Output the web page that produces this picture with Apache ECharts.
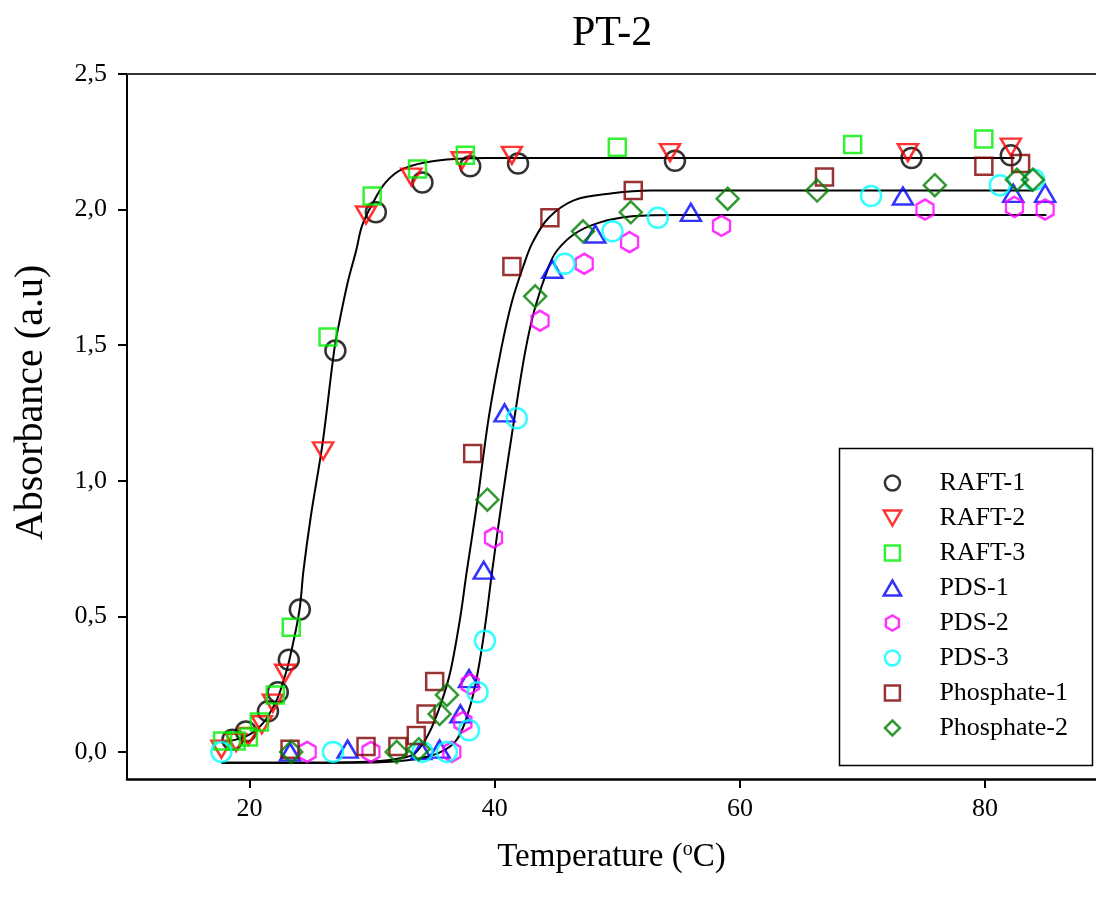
<!DOCTYPE html>
<html>
<head>
<meta charset="utf-8">
<script src="https://cdn.jsdelivr.net/npm/echarts@6/dist/echarts.min.js"></script>
<style>
  html, body { margin: 0; padding: 0; background: #fff; }
  #chart { width: 1096px; height: 901px; }
</style>
</head>
<body>
<div id="chart"></div>
<script>
// ---- measured points (temperature, absorbance) ----
const raft1 = [[18.6,0.045],[19.7,0.075],[21.5,0.15],[22.3,0.22],[23.2,0.34],[24.1,0.525],[27.0,1.48],[30.3,1.99],[34.1,2.10],[38.0,2.16],[41.9,2.17],[54.7,2.18],[74.0,2.19],[82.1,2.20]];
const raft2 = [[17.7,0.01],[18.9,0.035],[19.9,0.057],[21.0,0.10],[21.9,0.18],[22.9,0.29],[26.0,1.11],[29.5,1.98],[33.2,2.12],[37.3,2.18],[41.4,2.20],[54.3,2.21],[73.7,2.21],[82.1,2.23]];
const raft3 = [[17.8,0.04],[18.9,0.04],[19.9,0.055],[20.8,0.11],[22.1,0.21],[23.4,0.46],[26.4,1.53],[30.0,2.05],[33.7,2.15],[37.6,2.20],[50.0,2.23],[69.2,2.24],[79.9,2.26]];
const pds1 = [[23.3,0.0],[28.0,0.01],[34.0,0.005],[35.5,0.01],[37.2,0.14],[37.9,0.27],[39.1,0.67],[40.8,1.25],[44.7,1.78],[48.2,1.91],[56.0,1.99],[73.3,2.05],[82.3,2.06],[84.9,2.06]];
const pds2 = [[24.7,0.0],[29.9,0.0],[36.5,0.0],[37.4,0.11],[38.0,0.25],[39.9,0.79],[43.7,1.59],[47.3,1.80],[51.0,1.88],[58.5,1.94],[75.1,2.00],[82.4,2.01],[84.9,2.00]];
const pds3 = [[17.7,0.0],[26.8,0.0],[34.1,0.0],[36.1,0.0],[37.9,0.08],[38.6,0.22],[39.2,0.41],[41.8,1.23],[45.7,1.80],[49.6,1.92],[53.3,1.97],[70.7,2.05],[81.2,2.09],[84.0,2.11]];
const phos1 = [[23.3,0.01],[29.5,0.02],[32.1,0.02],[33.6,0.06],[34.4,0.14],[35.1,0.26],[38.2,1.10],[41.4,1.79],[44.5,1.97],[51.3,2.07],[66.9,2.12],[79.9,2.16],[82.9,2.17]];
const phos2 = [[23.4,0.0],[32.0,0.0],[33.8,0.01],[35.5,0.14],[36.1,0.21],[39.4,0.93],[43.3,1.68],[47.2,1.92],[51.1,1.99],[59.0,2.04],[66.3,2.07],[75.9,2.09],[82.6,2.11],[83.9,2.11]];

// ---- fitted curves ----
const fitRaft = [[17.7,0.035],[19.7,0.057],[21.1,0.106],[22.2,0.19],[22.7,0.253],[23.25,0.34],[24.06,0.52],[24.4,0.67],[25.0,0.87],[25.96,1.14],[26.9,1.48],[27.3,1.58],[28.0,1.73],[28.7,1.85],[29.17,1.94],[30.0,2.02],[31.1,2.10],[32.5,2.15],[35.2,2.18],[39.3,2.19],[45,2.19],[82.4,2.19]];
const fitPhos = [[17.7,-0.04],[26,-0.04],[30.6,-0.034],[32.5,-0.022],[33.5,-0.005],[34.65,0.07],[35.7,0.19],[36.4,0.30],[37.2,0.50],[37.7,0.66],[38.6,0.93],[39.5,1.23],[40.5,1.48],[41.4,1.66],[42.4,1.80],[43.1,1.88],[44.4,1.97],[46.5,2.035],[49.6,2.06],[52.7,2.07],[60,2.07],[83.9,2.07]];
const fitPds = [[17.7,-0.04],[26,-0.04],[30.6,-0.038],[34.65,-0.016],[36.8,0.039],[37.9,0.155],[38.6,0.29],[39.2,0.46],[39.8,0.67],[40.6,0.93],[41.6,1.23],[42.5,1.48],[43.3,1.64],[44.4,1.79],[45.1,1.85],[46.5,1.91],[48.4,1.95],[51.2,1.975],[55,1.98],[85.0,1.98]];

const xTicks = [20, 40, 60, 80];
const yTicks = [0, 0.5, 1.0, 1.5, 2.0, 2.5];

const FONT = 'Liberation Serif';
// path symbols keep their aspect in the legend
const hexagon = 'path://M0,-10L8.66,-5L8.66,5L0,10L-8.66,5L-8.66,-5Z';
const downTriangle = 'path://M-10,-8.66L10,-8.66L0,8.66Z';
const upTriangle = 'path://M-10,8.66L10,8.66L0,-8.66Z';
const square = 'path://M-10,-10L10,-10L10,10L-10,10Z';
const diamond = 'path://M0,-10L10,0L0,10L-10,0Z';

const markers = [
  { name: 'RAFT-1', data: raft1, color: '#000000', symbol: 'circle', size: 20 },
  { name: 'RAFT-2', data: raft2, color: '#ff0000', symbol: downTriangle, size: [20, 17] },
  { name: 'RAFT-3', data: raft3, color: '#00ee00', symbol: square, size: 17 },
  { name: 'PDS-1', data: pds1, color: '#0000ff', symbol: upTriangle, size: [20, 17] },
  { name: 'PDS-2', data: pds2, color: '#ff00ff', symbol: hexagon, size: [17, 20] },
  { name: 'PDS-3', data: pds3, color: '#00ffff', symbol: 'circle', size: 20 },
  { name: 'Phosphate-1', data: phos1, color: '#800000', symbol: square, size: 17 },
  { name: 'Phosphate-2', data: phos2, color: '#008000', symbol: diamond, size: 22 }
];

const chart = echarts.init(document.getElementById('chart'), null, { renderer: 'canvas' });

const fmt = v => v.toFixed(1).replace('.', ',');

const fitSeries = [fitRaft, fitPhos, fitPds].map(d => ({
  type: 'line',
  data: d,
  showSymbol: false,
  smooth: 0.35,
  lineStyle: { color: '#000', width: 2 },
  silent: true,
  z: 2
}));

const scatterSeries = markers.map(m => ({
  type: 'scatter',
  name: m.name,
  data: m.data,
  symbol: m.symbol,
  symbolSize: m.size,
  itemStyle: { color: 'rgba(255,255,255,0)', borderColor: m.color, borderWidth: 2.5 },
  z: 3
}));

chart.setOption({
  backgroundColor: '#fff',
  animation: false,
  title: {
    text: 'PT-2',
    left: 567,
    top: 8,
    textStyle: { fontFamily: FONT, fontSize: 42, fontWeight: 'normal', color: '#000' }
  },
  grid: { left: 127, right: 0, top: 74, bottom: 122, containLabel: false },
  legend: {
    orient: 'vertical',
    // the legend box starts at the visible icon edge (icons centred in an 84px slot)
    left: 882.5,
    top: 470,
    padding: 0,
    itemWidth: 84,
    itemHeight: 15,
    itemGap: 9,
    data: markers.map(m => m.name),
    itemStyle: { borderWidth: 2.5 },
    textStyle: { fontFamily: FONT, fontSize: 26, lineHeight: 26, color: '#000' }
  },
  graphic: [{
    type: 'rect',
    shape: { x: 839.5, y: 448.5, width: 253, height: 317 },
    style: { fill: 'none', stroke: '#000', lineWidth: 1.5 },
    silent: true,
    z: 10
  }],
  xAxis: [{
    type: 'value',
    min: 10,
    max: 89.05,
    position: 'bottom',
    name: 'Temperature ({sup|o}C)',
    nameLocation: 'middle',
    nameGap: 61,
    nameTextStyle: {
      fontFamily: FONT, fontSize: 33, color: '#000',
      rich: { sup: { fontFamily: FONT, fontSize: 20, verticalAlign: 'top', padding: [0, 0, 14, 0] } }
    },
    splitLine: { show: false },
    axisLine: { show: true, onZero: false, lineStyle: { color: '#000', width: 2.5 } },
    axisTick: { show: true, customValues: xTicks, length: 9, inside: false, lineStyle: { color: '#000', width: 2 } },
    axisLabel: { customValues: xTicks, margin: 17, fontFamily: FONT, fontSize: 26, color: '#000' }
  }, {
    type: 'value',
    min: 10,
    max: 89.05,
    position: 'top',
    splitLine: { show: false },
    axisLine: { show: true, onZero: false, lineStyle: { color: '#333', width: 2 } },
    axisTick: { show: false },
    axisLabel: { show: false }
  }],
  yAxis: {
    type: 'value',
    min: -0.1,
    max: 2.5,
    name: 'Absorbance (a.u)',
    nameLocation: 'middle',
    nameGap: 76,
    nameTextStyle: { fontFamily: FONT, fontSize: 40, color: '#000', padding: [0, 0, 0, 48] },
    splitLine: { show: false },
    axisLine: { show: true, onZero: false, lineStyle: { color: '#000', width: 2 } },
    axisTick: { show: true, customValues: yTicks, length: 9, lineStyle: { color: '#000', width: 2 } },
    axisLabel: { customValues: yTicks, margin: 20, fontFamily: FONT, fontSize: 26, color: '#000', formatter: fmt }
  },
  series: fitSeries.concat(scatterSeries)
});
</script>
</body>
</html>
